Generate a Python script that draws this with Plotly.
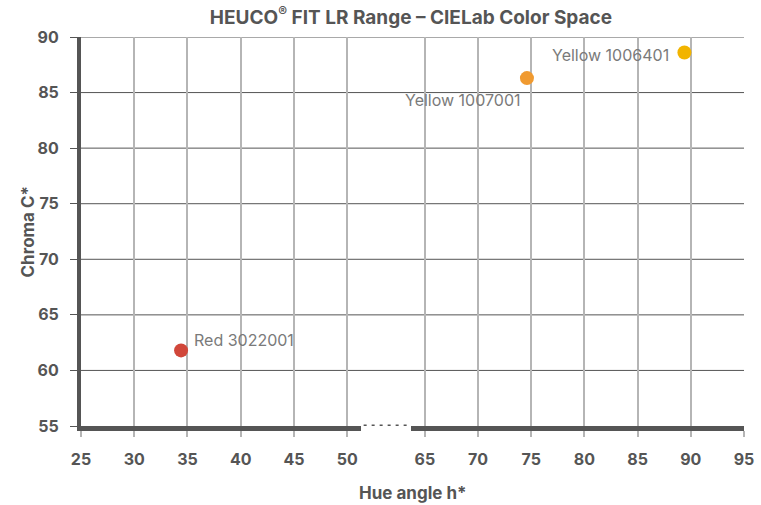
import plotly.graph_objects as go

# Data
left_names = ["Red 3022001"]
left_hue = [34.4]
left_chroma = [61.8]
left_colors = ["#d1473a"]

right_names = ["Yellow 1007001", "Yellow 1006401"]
right_hue = [74.6, 89.4]
right_chroma = [86.3, 88.6]
right_colors = ["#f09a30", "#f2b400"]

left_ticks = [25, 30, 35, 40, 45, 50]
right_ticks = [65, 70, 75, 80, 85, 90, 95]
y_ticks = [55, 60, 65, 70, 75, 80, 85, 90]

DARK = "#555555"
GRID_V = "#b5b5b5"
LABEL = "#7a7a7a"
FONT = "Inter"

d_left = [0, 0.4223]
d_right = [0.4977, 1]

fig = go.Figure()
fig.add_trace(go.Scatter(
    x=left_hue, y=left_chroma, mode="markers", marker=dict(size=14, color=left_colors),
    xaxis="x", yaxis="y", cliponaxis=False, showlegend=False))
fig.add_trace(go.Scatter(
    x=right_hue, y=right_chroma, mode="markers", marker=dict(size=14, color=right_colors),
    xaxis="x2", yaxis="y", cliponaxis=False, showlegend=False))

# point labels
label_style = [
    ("x", left_names[0], left_hue[0], left_chroma[0], "left", 11, 10),
    ("x2", right_names[0], right_hue[0], right_chroma[0], "right", -4, -22),
    ("x2", right_names[1], right_hue[1], right_chroma[1], "right", -13, -2),
]
for xr, txt, xv, yv, anc, dx, dy in label_style:
    fig.add_annotation(text=txt, xref=xr, yref="y", x=xv, y=yv, showarrow=False,
                       xanchor=anc, yanchor="middle", xshift=dx, yshift=dy,
                       font=dict(family=FONT, size=16, color=LABEL))

xcommon = dict(
    showline=True, linewidth=5, linecolor=DARK,
    showgrid=True, gridcolor=GRID_V, gridwidth=1.5,
    ticks="outside", ticklen=6, tickcolor=GRID_V, tickwidth=1.5,
    tickfont=dict(family=FONT, size=16, color=DARK, weight="bold"),
    ticklabelstandoff=9, zeroline=False, tickmode="array", automargin=False,
)
fig.update_layout(
    width=761, height=505,
    margin=dict(l=81, r=17, t=37, b=79),
    plot_bgcolor="white", paper_bgcolor="white",
    title=dict(text="HEUCO<sup>®</sup> FIT LR Range – CIELab Color Space",
               x=0.540, xanchor="center", y=0.966, yanchor="middle",
               font=dict(family=FONT, size=19, color=DARK, weight="bold")),
    xaxis=dict(domain=d_left, range=[25, 51.3], tickvals=left_ticks,
               anchor="y", **xcommon),
    xaxis2=dict(domain=d_right, range=[63.7, 95], tickvals=right_ticks,
                anchor="y", **xcommon),
    yaxis=dict(range=[55, 90], tickvals=y_ticks, tickmode="array",
               showline=True, linewidth=4, linecolor=DARK,
               showgrid=False, zeroline=False, automargin=False,
               ticks="outside", ticklen=7, tickcolor=DARK, tickwidth=1,
               ticklabelstandoff=8,
               tickfont=dict(family=FONT, size=16, color=DARK, weight="bold")),
)

# horizontal gridlines spanning across the axis break
for v in y_ticks[1:]:
    fig.add_shape(type="line", xref="paper", yref="y", x0=0, x1=1, y0=v, y1=v,
                  line=dict(color=DARK, width=1), layer="below")

# axis break indicator
fig.add_shape(type="line", xref="paper", yref="y", x0=d_left[1] + 0.004, x1=d_right[0] - 0.004,
              y0=55, y1=55, line=dict(color=DARK, width=3, dash="3px,5px"))

fig.add_annotation(text="Hue angle h*", xref="paper", yref="paper", x=0.5, y=-0.172,
                   xanchor="center", yanchor="middle", showarrow=False,
                   font=dict(family=FONT, size=17, color=DARK, weight="bold"))
fig.add_annotation(text="Chroma C*", xref="paper", yref="paper", x=-0.0814, y=0.5,
                   xanchor="center", yanchor="middle", showarrow=False, textangle=-90,
                   font=dict(family=FONT, size=17, color=DARK, weight="bold"))

fig.write_html("out.html", config={"displayModeBar": False},
               post_script="document.body.style.margin='0';")
